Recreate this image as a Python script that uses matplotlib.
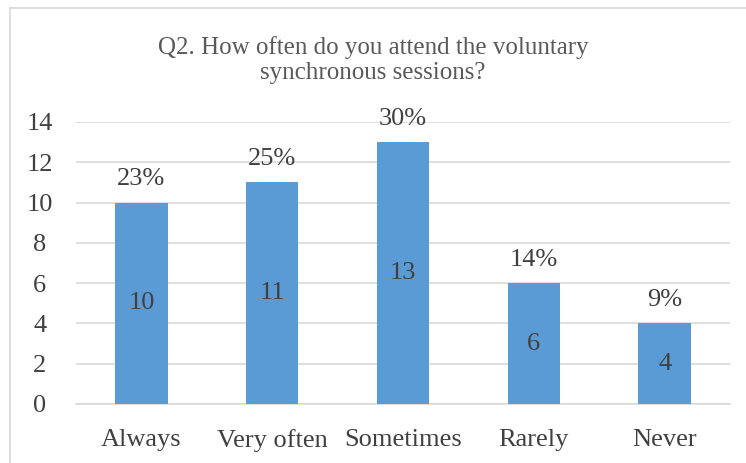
import matplotlib.pyplot as plt
from matplotlib.lines import Line2D

categories = ["Always", "Very often", "Sometimes", "Rarely", "Never"]
counts = [10, 11, 13, 6, 4]
percents = ["23%", "25%", "30%", "14%", "9%"]
yticks = [0, 2, 4, 6, 8, 10, 12, 14]

plt.rcParams['font.family'] = ['Liberation Serif', 'DejaVu Serif']

W, H = 746, 463
fig = plt.figure(figsize=(W / 100, H / 100), dpi=100)
ax = fig.add_axes([76 / W, 1 - 404 / H, (730 - 76) / W, (404 - 122) / H])

x = list(range(len(categories)))
bars = ax.bar(x, counts, width=0.4, color="#5B9BD5", zorder=3)

for xi, c, p in zip(x, counts, percents):
    ax.text(xi, c / 2, str(c), ha="center", va="center", fontsize=19, color="#404040", zorder=4)
    ax.annotate(p, (xi, c), xytext=(0, 9), textcoords="offset points",
                ha="center", va="bottom", fontsize=19, color="#404040")

ax.set_xlim(-0.5, len(categories) - 0.5)
ax.set_ylim(0, 14)
ax.set_yticks(yticks)
ax.set_xticks(x)
ax.set_xticklabels(categories)
ax.tick_params(axis="both", length=0, labelsize=19, labelcolor="#404040")
ax.tick_params(axis="x", pad=18)
ax.tick_params(axis="y", pad=26)
for lbl in ax.get_yticklabels():
    lbl.set_horizontalalignment("center")
ax.grid(axis="y", color="#D9D9D9", linewidth=1.2, zorder=0)
for s in ["top", "right", "left"]:
    ax.spines[s].set_visible(False)
ax.spines["bottom"].set_color("#D9D9D9")
ax.spines["bottom"].set_linewidth(1.2)

fig.text(0.5, 1 - 60 / H, "Q2. How often do you attend the voluntary\nsynchronous sessions?",
         ha="center", va="center", fontsize=18, color="#595959", linespacing=1.2)

# chart border (left and top edges visible)
fig.add_artist(Line2D([9.5 / W, 9.5 / W], [0, 1 - 7.5 / H], color="#D9D9D9", lw=1.2, transform=fig.transFigure))
fig.add_artist(Line2D([9.5 / W, 1], [1 - 7.5 / H, 1 - 7.5 / H], color="#D9D9D9", lw=1.2, transform=fig.transFigure))

fig.savefig("out.png", dpi=100)
